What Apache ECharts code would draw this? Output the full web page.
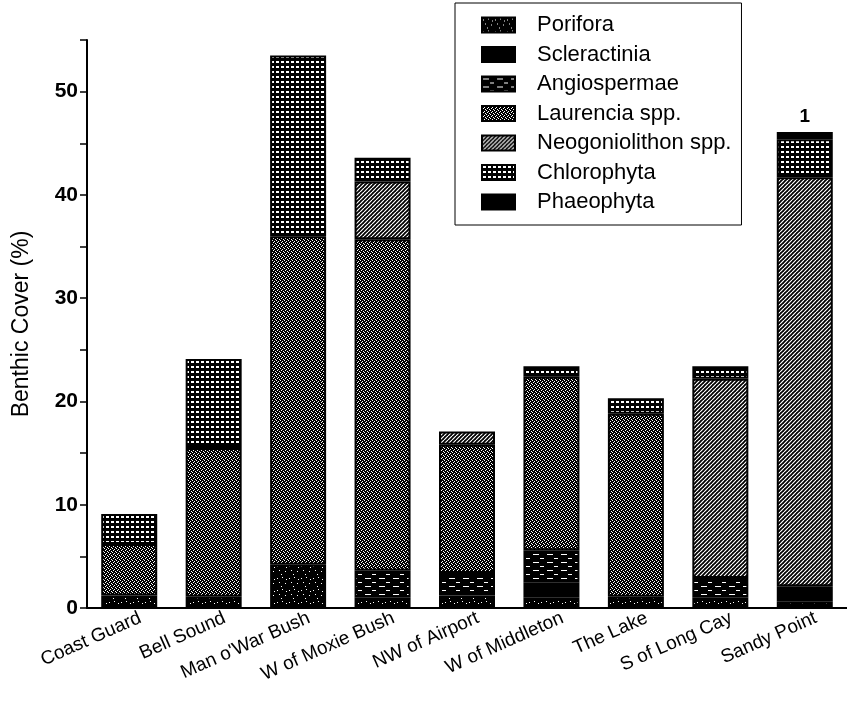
<!DOCTYPE html>
<html>
<head>
<meta charset="utf-8">
<script src="https://cdn.jsdelivr.net/npm/echarts@6/dist/echarts.min.js"></script>
<style>
html,body{margin:0;padding:0;background:#fff;}
#chart{width:847px;height:722px;}
</style>
</head>
<body>
<div id="chart"></div>
<script>
const categories = ['Coast Guard', 'Bell Sound', "Man o'War Bush", 'W of Moxie Bush', 'NW of Airport', 'W of Middleton', 'The Lake', 'S of Long Cay', 'Sandy Point'];
const porifora       = [1.2, 1.1, 4.2, 1.0, 1.2, 1.0, 1.1, 1.0, 0.6];
const scleractinia   = [0, 0, 0, 0, 0, 1.5, 0, 0, 1.5];
const angiospermae   = [0, 0, 0, 2.6, 2.2, 3.1, 0, 1.9, 0];
const laurencia      = [5.0, 14.4, 31.8, 32.1, 12.4, 16.8, 17.7, 0, 0];
const neogoniolithon = [0, 0, 0, 5.6, 1.3, 0, 0, 19.3, 39.6];
const chlorophyta    = [2.9, 8.6, 17.5, 2.3, 0, 1.0, 1.5, 1.2, 3.7];
const phaeophyta     = [0, 0, 0, 0, 0, 0, 0, 0, 0.7];
const topNotes       = ['', '', '', '', '', '', '', '', '1'];
const seriesNames = ['Porifora', 'Scleractinia', 'Angiospermae', 'Laurencia spp.', 'Neogoniolithon spp.', 'Chlorophyta', 'Phaeophyta'];
const seriesValues = [porifora, scleractinia, angiospermae, laurencia, neogoniolithon, chlorophyta, phaeophyta];

function makePattern(w, h, draw) {
  const c = document.createElement('canvas');
  c.width = w; c.height = h;
  const ctx = c.getContext('2d');
  ctx.fillStyle = '#000';
  ctx.fillRect(0, 0, w, h);
  ctx.fillStyle = '#fff';
  ctx.strokeStyle = '#fff';
  draw(ctx, w, h);
  return { image: c, repeat: 'repeat' };
}
const fills = [
  makePattern(12, 12, function (ctx) {
    [[1,2],[6,1],[3,6],[9,7],[5,10],[10,3]].forEach(function (p) { ctx.fillRect(p[0], p[1], 1, 1); });
  }),
  '#000',
  makePattern(14, 8, function (ctx) {
    ctx.fillRect(1, 2, 6, 1);
    ctx.fillRect(8, 6, 4, 1);
  }),
  makePattern(4, 4, function (ctx) {
    ctx.fillRect(0, 0, 1, 1); ctx.fillRect(2, 1, 1, 1);
    ctx.fillRect(1, 2, 1, 1); ctx.fillRect(3, 3, 1, 1);
  }),
  makePattern(4, 4, function (ctx, w, h) {
    ctx.lineWidth = 1.2;
    [-4, 0, 4].forEach(function (k) {
      ctx.beginPath(); ctx.moveTo(k, h); ctx.lineTo(k + w, 0); ctx.stroke();
    });
  }),
  makePattern(5, 5, function (ctx) {
    ctx.fillRect(1, 1, 3, 2);
  }),
  '#000'
];

const series = seriesNames.map(function (name, i) {
  const s = {
    name: name,
    type: 'bar',
    stack: 'total',
    barWidth: 56,
    data: seriesValues[i].map(function (v) { return v === 0 ? '-' : v; }),
    itemStyle: { color: fills[i], borderColor: '#000', borderWidth: 2 },
    emphasis: { disabled: true },
    animation: false
  };
  if (i === seriesNames.length - 1) {
    s.label = {
      show: true, position: 'top', distance: 6,
      color: '#000', fontSize: 19, fontWeight: 'bold', fontFamily: 'Liberation Sans',
      formatter: function (p) { return topNotes[p.dataIndex]; }
    };
  }
  return s;
});

const chart = echarts.init(document.getElementById('chart'), null, { renderer: 'canvas' });
chart.setOption({
  animation: false,
  backgroundColor: '#fff',
  textStyle: { fontFamily: 'Liberation Sans', color: '#000' },
  grid: { left: 87, right: -12, top: 40, bottom: 114, containLabel: false },
  legend: {
    orient: 'vertical',
    left: 455, top: 3,
    padding: [11, 10, 12, 26],
    itemWidth: 33, itemHeight: 15, itemGap: 7.5,
    icon: 'rect',
    borderColor: '#000', borderWidth: 1,
    backgroundColor: '#fff',
    selectedMode: false,
    textStyle: { fontSize: 22, color: '#000', lineHeight: 22, padding: [0, 0, 0, 17], fontFamily: 'Liberation Sans' },
    data: seriesNames
  },
  xAxis: {
    type: 'category',
    data: categories,
    axisLine: { lineStyle: { color: '#000', width: 2 } },
    axisTick: { alignWithLabel: true, length: 10, lineStyle: { color: '#000', width: 2 } },
    axisLabel: { rotate: 24, fontSize: 19, color: '#000', margin: 14, padding: [0, -12, 0, 0], interval: 0, fontFamily: 'Liberation Sans' }
  },
  yAxis: {
    type: 'value',
    min: 0, max: 55, interval: 5,
    name: 'Benthic Cover (%)',
    nameLocation: 'middle',
    nameGap: 54,
    nameTextStyle: { fontSize: 23, color: '#000', fontFamily: 'Liberation Sans' },
    axisLine: { show: true, lineStyle: { color: '#000', width: 2 } },
    axisTick: { show: true, length: 7, lineStyle: { color: '#000', width: 1.5 } },
    splitLine: { show: false },
    axisLabel: {
      fontSize: 21, fontWeight: 'bold', color: '#000', margin: 9, fontFamily: 'Liberation Sans',
      formatter: function (v) { return v % 10 === 0 ? String(v) : ''; }
    }
  },
  series: series
});
</script>
</body>
</html>
